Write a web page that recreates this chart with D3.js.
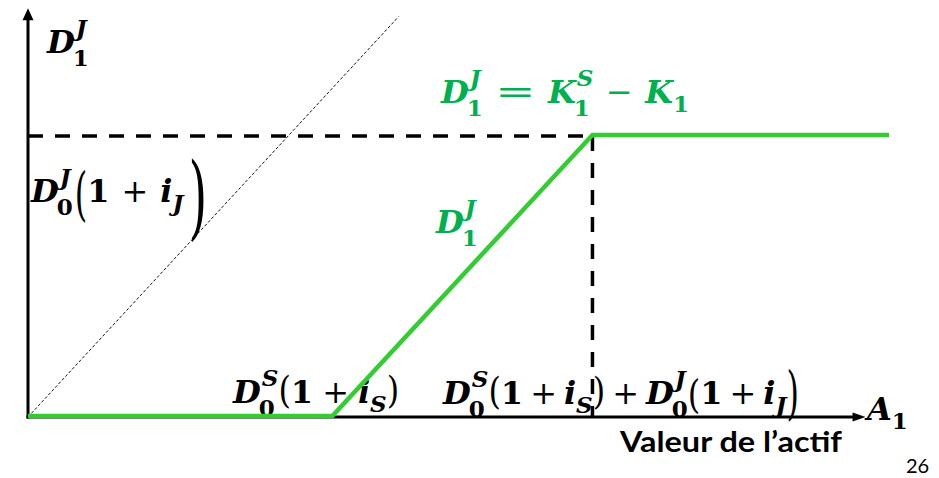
<!DOCTYPE html>
<html>
<head>
<meta charset="utf-8">
<script src="https://cdn.jsdelivr.net/npm/d3@7"></script>
<style>
  body { margin: 0; background: #fff; }
  svg { display: block; }
  .math { font-family: "DejaVu Serif", serif; }
  .caption { font-family: Lato, "Open Sans", sans-serif; }
</style>
</head>
<body>
<svg id="chart"></svg>
<script>
// asset value A1 at the two kinks: D0S(1+iS) and D0S(1+iS) + D0J(1+iJ)
const kinkValues = [117, 217];
// junior tranche payoff D1J read along A1
const payoffA = [0, 117, 217, 331];
const payoffD = [0, 0, 100, 100];
// 45 degree reference (D1J = A1)
const diagA = [0, 142.5];
const diagD = [0, 142.5];
// cap of the junior payoff, D0J(1+iJ)
const juniorCap = 100;
// axis extents
const axisMaxA = 322;
const axisMaxD = 145.5;
const xAxisTitle = "Valeur de l\u2019actif";
const pageNumber = "26";

class PayoffChart {
  constructor(_config) {
    this.config = {
      parentElement: _config.parentElement,
      containerWidth: _config.containerWidth || 939,
      containerHeight: _config.containerHeight || 478
    };
    this.initVis();
  }

  initVis() {
    let vis = this;
    vis.svg = d3.select(vis.config.parentElement)
      .attr("width", vis.config.containerWidth)
      .attr("height", vis.config.containerHeight);

    vis.xScale = d3.scaleLinear().domain([0, 331]).range([28, 889]);
    vis.yScale = d3.scaleLinear().domain([0, juniorCap]).range([417, 136]);

    vis.labelG = vis.svg.append("g");
    vis.guideG = vis.svg.append("g");
    vis.axisG = vis.svg.append("g");
    vis.lineG = vis.svg.append("g");
    vis.renderVis();
  }

  // lays out a small formula glyph by glyph, with stacked sup/sub scripts
  drawMath(x, y, tokens, opt = {}) {
    let vis = this;
    const fs = 32, ss = 23;
    const pad = opt.pad != null ? opt.pad : 9;
    const scriptGap = opt.scriptGap || 0;
    const g = vis.labelG.append("g").attr("class", "math").attr("fill", opt.color || "#000");
    const put = (str, px, py, size, italic, bold) => g.append("text")
      .attr("x", px).attr("y", py)
      .style("font-size", size + "px")
      .style("font-style", italic ? "italic" : "normal")
      .style("font-weight", bold ? "bold" : "normal")
      .text(str);
    let cx = x;
    tokens.forEach(tk => {
      if (tk.op) cx += pad;
      if (tk.gap) cx += tk.gap;
      const el = put(tk.t, cx, y, fs, tk.it, tk.bold !== false);
      let w = el.node().getComputedTextLength();
      const sx = tk.sx || 1;
      if (tk.span) {
        // stretch delimiter so it covers [y - up, y + down]
        const [up, down] = tk.span;
        const k = (up + down) / (0.89 * fs);
        const y0 = y + down - 0.13 * fs * k;
        el.attr("x", 0).attr("y", 0)
          .attr("transform", `translate(${cx},${y0}) scale(${sx},${k})`);
      } else if (sx !== 1) {
        el.attr("x", 0).attr("transform", `translate(${cx},0) scale(${sx},1)`);
      }
      cx += w * sx;
      let sw = 0;
      if (tk.sup) {
        const s = put(tk.sup, cx + 1, y - 17, ss, true, true);
        sw = s.node().getComputedTextLength() + 1;
      }
      if (tk.sub) {
        const shift = tk.sup ? 13 : 9;
        const dx = tk.sup ? -2 : 0;
        const s = put(tk.sub, cx + dx, y + shift, ss, !/\d/.test(tk.sub), true);
        sw = Math.max(sw, s.node().getComputedTextLength() + dx);
      }
      if (tk.sup && tk.sub) sw += scriptGap;
      cx += sw;
      if (tk.op) cx += pad;
    });
    return g;
  }

  renderVis() {
    let vis = this;
    const green = "#00b050";
    const x0 = vis.xScale(0), y0 = vis.yScale(0);

    // labels (drawn first, lines pass over them)
    vis.drawMath(47, 53, [{ t: "D", it: true, sup: "J", sub: "1" }]);
    vis.drawMath(31, 202, [
      { t: "D", it: true, sup: "J", sub: "0" },
      { t: "(", bold: false, span: [32, 20] },
      { t: "1" },
      { t: "+", op: true, bold: false },
      { t: "i", it: true, sub: "J" },
      { t: ")", bold: false, span: [44, 38], sx: 1.5, gap: 5 }
    ], { pad: 12, scriptGap: 2 });
    vis.drawMath(441, 103, [
      { t: "D", it: true, sup: "J", sub: "1" },
      { t: "=", op: true, bold: false, sx: 1.5 },
      { t: "K", it: true, sup: "S", sub: "1" },
      { t: "\u2212", op: true, bold: false },
      { t: "K", it: true, sub: "1" }
    ], { color: green, pad: 12.5 });
    vis.drawMath(436, 233, [{ t: "D", it: true, sup: "J", sub: "1" }], { color: green });
    vis.drawMath(233, 403, [
      { t: "D", it: true, sup: "S", sub: "0" },
      { t: "(", bold: false, span: [28, 5] },
      { t: "1" },
      { t: "+", op: true, bold: false },
      { t: "i", it: true, sub: "S" },
      { t: ")", bold: false, span: [28, 5] }
    ]);
    vis.drawMath(443, 404, [
      { t: "D", it: true, sup: "S", sub: "0" },
      { t: "(", bold: false, span: [28, 5] },
      { t: "1" },
      { t: "+", op: true, bold: false },
      { t: "i", it: true, sub: "S" },
      { t: ")", bold: false, span: [28, 5] },
      { t: "+", op: true, bold: false },
      { t: "D", it: true, sup: "J", sub: "0" },
      { t: "(", bold: false, span: [26, 9] },
      { t: "1" },
      { t: "+", op: true, bold: false },
      { t: "i", it: true, sub: "J" },
      { t: ")", bold: false, span: [35, 16] }
    ], { pad: 7 });
    vis.drawMath(867, 420, [{ t: "A", it: true, sub: "1" }]);

    vis.labelG.append("text")
      .attr("class", "caption")
      .attr("x", 620).attr("y", 452)
      .attr("textLength", 222)
      .attr("lengthAdjust", "spacingAndGlyphs")
      .style("font-size", "29px").style("font-weight", "bold")
      .text(xAxisTitle);
    vis.labelG.append("text")
      .attr("class", "caption")
      .attr("x", 906).attr("y", 473)
      .style("font-size", "20px")
      .text(pageNumber);

    // dashed guides to the cap
    vis.guideG.selectAll(".guide")
      .data([[[0, juniorCap], [kinkValues[1], juniorCap]], [[kinkValues[1], juniorCap], [kinkValues[1], 0]]])
      .join("path")
      .attr("class", "guide")
      .attr("d", d3.line().x(d => vis.xScale(d[0])).y(d => vis.yScale(d[1])))
      .attr("fill", "none")
      .attr("stroke", "#000")
      .attr("stroke-width", 3.5)
      .attr("stroke-dasharray", "15,12");

    vis.guideG.append("path")
      .datum(d3.zip(diagA, diagD))
      .attr("d", d3.line().x(d => vis.xScale(d[0])).y(d => vis.yScale(d[1])))
      .attr("fill", "none")
      .attr("stroke", "#111")
      .attr("stroke-width", 1)
      .attr("stroke-dasharray", "3,2");

    // axes with arrow heads
    const yTop = vis.yScale(axisMaxD), xEnd = vis.xScale(axisMaxA);
    vis.axisG.append("line")
      .attr("x1", x0).attr("x2", x0)
      .attr("y1", y0 + 1.5).attr("y2", yTop + 8)
      .attr("stroke", "#000").attr("stroke-width", 3);
    vis.axisG.append("path")
      .attr("d", `M${x0},${yTop}L${x0 + 5.5},${yTop + 12}L${x0 - 5.5},${yTop + 12}Z`)
      .attr("fill", "#000");
    vis.axisG.append("line")
      .attr("x1", x0 - 1.5).attr("x2", xEnd - 8)
      .attr("y1", y0).attr("y2", y0)
      .attr("stroke", "#000").attr("stroke-width", 3);
    vis.axisG.append("path")
      .attr("d", `M${xEnd},${y0}L${xEnd - 13},${y0 - 4.5}L${xEnd - 13},${y0 + 4.5}Z`)
      .attr("fill", "#000");

    // junior payoff
    vis.lineG.append("path")
      .datum(d3.zip(payoffA, payoffD))
      .attr("d", d3.line().x(d => vis.xScale(d[0])).y(d => vis.yScale(d[1]) - 1))
      .attr("fill", "none")
      .attr("stroke", "#33cc33")
      .attr("stroke-width", 4.5);
  }
}

const chart = new PayoffChart({ parentElement: "#chart" });
</script>
</body>
</html>
